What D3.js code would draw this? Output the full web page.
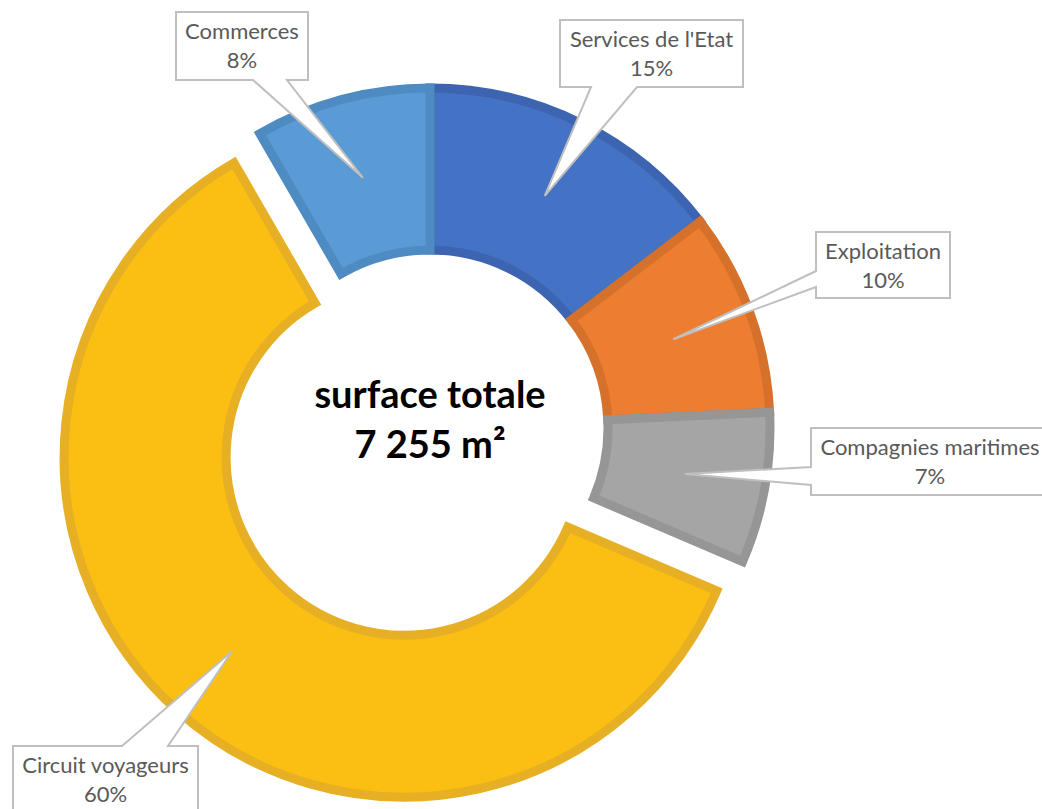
<!DOCTYPE html>
<html>
<head>
<meta charset="utf-8">
<script src="https://cdn.jsdelivr.net/npm/d3@7"></script>
<style>
  body { margin: 0; background: #fff; }
  svg { display: block; }
</style>
</head>
<body>
<div id="chart"></div>
<script>
// surfaces en m2 (pourcentages arrondis affichés)
const categories = ["Services de l'Etat", "Exploitation", "Compagnies maritimes", "Circuit voyageurs", "Commerces"]
const surfaces = [1060, 700, 520, 4370, 605]
const fillColors = ["#4472C4", "#ED7D31", "#A5A5A5", "#FBBF14", "#5B9BD5"]
const strokeColors = ["#3C64B0", "#D5712B", "#969696", "#E6AF24", "#4F8BC3"]
const explodeBy = [0, 0, 0, 39, 0]

// position des bulles (rectangle + pointe)
const callouts = [
  {x: 560, y: 20, w: 183, h: 67, side: "bottom", b0: 591, b1: 637},
  {x: 816, y: 232, w: 134, h: 66, side: "left", b0: 271, b1: 287},
  {x: 811, y: 428, w: 238, h: 67, side: "left", b0: 467, b1: 485},
  {x: 13, y: 746, w: 185, h: 67, side: "top", b0: 122, b1: 168},
  {x: 176, y: 12, w: 132, h: 68, side: "bottom", b0: 253, b1: 287}
]

let width = 1042, height = 809
let cx = 430, cy = 428

let svg = d3.select("#chart").append("svg")
  .attr("width", width)
  .attr("height", height)

let total = d3.sum(surfaces)
let data = categories.map((c, i) => ({name: c, value: surfaces[i], i: i}))

let color = d3.scaleOrdinal().domain(categories).range(fillColors)
let stroke = d3.scaleOrdinal().domain(categories).range(strokeColors)

let pie = d3.pie().sort(null).value(d => d.value)
let arcs = pie(data)

let arc = d3.arc().innerRadius(178).outerRadius(340)
let labelArc = d3.arc().innerRadius(174).outerRadius(344)

function offset(d) {
  let a = (d.startAngle + d.endAngle) / 2
  let k = explodeBy[d.data.i]
  return [Math.sin(a) * k, -Math.cos(a) * k]
}

let g = svg.append("g").attr("transform", `translate(${cx},${cy})`)

g.selectAll("path.slice")
  .data(arcs)
  .enter()
  .append("path")
  .attr("class", "slice")
  .attr("d", arc)
  .attr("transform", d => `translate(${offset(d)})`)
  .style("fill", d => color(d.data.name))
  .style("stroke", d => stroke(d.data.name))
  .style("stroke-width", 9)
  .style("stroke-linejoin", "miter")

// texte central
let fr = d3.formatLocale({decimal: ",", thousands: " ", grouping: [3], currency: ["", " €"]})
let center = svg.append("text")
  .attr("text-anchor", "middle")
  .style("font-family", "Lato, 'Open Sans', sans-serif")
  .style("font-weight", "bold")
  .style("font-size", "38px")
  .style("fill", "#000")
center.append("tspan").attr("x", cx).attr("y", 408).text("surface totale")
center.append("tspan").attr("x", cx).attr("y", 458).text(fr.format(",")(total) + " m²")

// bulles
function calloutPath(c, tip) {
  let x = c.x, y = c.y, w = c.w, h = c.h
  let p = d3.path()
  p.moveTo(x, y)
  if (c.side == "top") { p.lineTo(c.b0, y); p.lineTo(tip[0], tip[1]); p.lineTo(c.b1, y) }
  p.lineTo(x + w, y)
  p.lineTo(x + w, y + h)
  if (c.side == "bottom") { p.lineTo(c.b1, y + h); p.lineTo(tip[0], tip[1]); p.lineTo(c.b0, y + h) }
  p.lineTo(x, y + h)
  if (c.side == "left") { p.lineTo(x, c.b1); p.lineTo(tip[0], tip[1]); p.lineTo(x, c.b0) }
  p.closePath()
  return p.toString()
}

let labels = svg.selectAll("g.callout")
  .data(arcs)
  .enter()
  .append("g")
  .attr("class", "callout")

labels.append("path")
  .attr("d", d => {
    let c = labelArc.centroid(d)
    let o = offset(d)
    let tip = [cx + c[0] + o[0], cy + c[1] + o[1]]
    return calloutPath(callouts[d.data.i], tip)
  })
  .style("fill", "#fff")
  .style("stroke", "#BFBFBF")
  .style("stroke-width", 2)
  .style("stroke-linejoin", "miter")

let txt = labels.append("text")
  .attr("text-anchor", "middle")
  .style("font-family", "Lato, 'Open Sans', sans-serif")
  .style("font-size", "22px")
  .style("fill", "#595959")

txt.append("tspan")
  .attr("x", d => callouts[d.data.i].x + callouts[d.data.i].w / 2)
  .attr("y", d => callouts[d.data.i].y + 27)
  .text(d => d.data.name)

txt.append("tspan")
  .attr("x", d => callouts[d.data.i].x + callouts[d.data.i].w / 2)
  .attr("y", d => callouts[d.data.i].y + 56)
  .text(d => Math.round(d.data.value / total * 100) + "%")
</script>
</body>
</html>
